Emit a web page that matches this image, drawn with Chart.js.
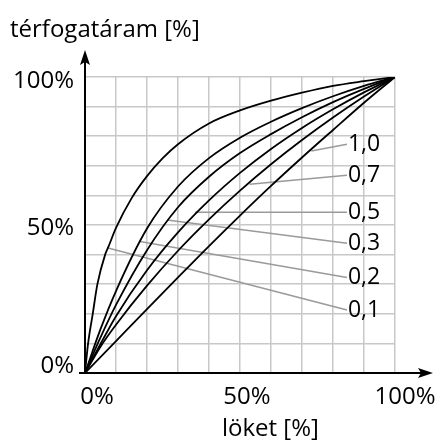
<!DOCTYPE html>
<html lang="hu">
<head>
    <meta charset="UTF-8">
    <title>térfogatáram - löket</title>
    <script src="https://cdn.jsdelivr.net/npm/chart.js"></script>
    <style>
        body {
            margin: 0;
            background: white;
        }
        canvas {
            display: block;
        }
    </style>
</head>
<body>
    <canvas id="chart" width="438" height="444"></canvas>
    <script>
        // Tick labels on both axes
        const tickValues = [0, 50, 100];
        const tickLabels = ['0%', '50%', '100%'];
        const xTitle = 'löket [%]';
        const yTitle = 'térfogatáram [%]';

        // Curves (x = löket %, y = térfogatáram %)
        const curveNames = ['0,1', '0,2', '0,3', '0,5', '0,7', '1,0'];
        const x01 = [0, 1, 2.5, 4, 6.5, 7.5, 10, 15, 20, 25, 30, 40, 50, 60, 70, 80, 90, 100];
        const y01 = [0, 10, 20, 30, 40, 42.5, 49, 59, 66.5, 72.5, 77.3, 84.3, 88.7, 92, 94.7, 97, 98.6, 100];
        const x02 = [0, 5, 10, 20, 30, 40, 50, 60, 70, 80, 90, 100];
        const y02 = [0, 14.8, 27.7, 48.8, 63, 72.6, 79.5, 84.9, 89.5, 93.5, 97, 100];
        const x03 = [0, 5, 10, 20, 30, 40, 50, 60, 70, 80, 90, 100];
        const y03 = [0, 12, 23, 41.5, 56, 66.3, 74.3, 80.7, 86.4, 91.5, 96, 100];
        const x05 = [0, 5, 10, 20, 30, 40, 50, 60, 70, 80, 90, 100];
        const y05 = [0, 9.8, 19.2, 34.7, 47.5, 58.3, 67.6, 75.7, 82.8, 89.1, 94.8, 100];
        const x07 = [0, 5, 10, 20, 30, 40, 50, 60, 70, 80, 90, 100];
        const y07 = [0, 8.9, 16.3, 29.5, 41.3, 51.9, 61.6, 70.5, 78.7, 86.3, 93.4, 100];
        const x10 = [0, 10, 20, 30, 40, 50, 60, 70, 80, 90, 100];
        const y10 = [0, 10.8, 21.6, 32.3, 42.9, 53.2, 63.2, 72.8, 82.1, 91.3, 100];
        const curvesX = [x01, x02, x03, x05, x07, x10];
        const curvesY = [y01, y02, y03, y05, y07, y10];

        // Leader lines from the labels to the curves
        const leaderStartX = 84.5;
        const leaderStartY = [21.3, 32.3, 43.8, 54.3, 66.8, 77.3];
        const leaderEndX = [7.4, 17.7, 26.5, 35.5, 53.1, 73];
        const leaderEndY = [42.2, 44.4, 51.7, 54.3, 63.75, 75];

        const FONT = '"Open Sans", "DejaVu Sans", sans-serif';

        const datasets = [];
        curveNames.forEach((name, i) => {
            datasets.push({
                label: 'leader ' + name,
                data: [
                    { x: leaderStartX, y: leaderStartY[i] },
                    { x: leaderEndX[i], y: leaderEndY[i] }
                ],
                showLine: true,
                borderColor: '#9a9a9a',
                borderWidth: 1.5,
                pointRadius: 0,
                order: 2
            });
        });
        curveNames.forEach((name, i) => {
            datasets.push({
                label: name,
                data: curvesX[i].map((x, j) => ({ x: x, y: curvesY[i][j] })),
                showLine: true,
                borderColor: '#000000',
                borderWidth: 1.8,
                pointRadius: 0,
                cubicInterpolationMode: 'monotone',
                order: 1
            });
        });

        // Axes with arrows, tick labels, titles and curve labels
        const decorations = {
            id: 'decorations',
            afterDraw(chart) {
                const ctx = chart.ctx;
                const xs = chart.scales.x;
                const ys = chart.scales.y;
                const x0 = xs.getPixelForValue(0);
                const y0 = ys.getPixelForValue(0);
                const yTop = ys.getPixelForValue(100);
                const xRight = xs.getPixelForValue(100);

                ctx.save();
                ctx.strokeStyle = '#000';
                ctx.fillStyle = '#000';
                ctx.lineWidth = 2;

                // y axis
                ctx.beginPath();
                ctx.moveTo(x0, y0 + 1);
                ctx.lineTo(x0, yTop - 20);
                ctx.stroke();
                ctx.beginPath();
                ctx.moveTo(x0, yTop - 27);
                ctx.lineTo(x0 - 5, yTop - 12);
                ctx.lineTo(x0, yTop - 15);
                ctx.lineTo(x0 + 5, yTop - 12);
                ctx.closePath();
                ctx.fill();

                // x axis
                ctx.beginPath();
                ctx.moveTo(x0 - 6, y0);
                ctx.lineTo(xRight + 30, y0);
                ctx.stroke();
                ctx.beginPath();
                ctx.moveTo(xRight + 38, y0);
                ctx.lineTo(xRight + 23, y0 - 5);
                ctx.lineTo(xRight + 26, y0);
                ctx.lineTo(xRight + 23, y0 + 5);
                ctx.closePath();
                ctx.fill();

                ctx.font = '24px ' + FONT;
                ctx.textBaseline = 'alphabetic';

                // y tick labels
                const yShift = [0, 10, 11];
                ctx.textAlign = 'right';
                tickValues.forEach((v, i) => {
                    ctx.fillText(tickLabels[i], x0 - 11, ys.getPixelForValue(v) + yShift[i]);
                });

                // x tick labels
                const xShift = [12, 7, 10];
                ctx.textAlign = 'center';
                tickValues.forEach((v, i) => {
                    ctx.fillText(tickLabels[i], xs.getPixelForValue(v) + xShift[i], y0 + 31);
                });

                // titles
                ctx.textAlign = 'left';
                ctx.fillText(yTitle, 10, 37);
                ctx.fillText(xTitle, 222, 436);

                // curve labels
                ctx.font = '23px ' + FONT;
                curveNames.forEach((name, i) => {
                    ctx.fillText(name, xs.getPixelForValue(leaderStartX) + 1,
                        ys.getPixelForValue(leaderStartY[i]) + 7);
                });
                ctx.restore();
            }
        };

        new Chart(document.getElementById('chart'), {
            type: 'scatter',
            data: { datasets: datasets },
            options: {
                responsive: false,
                animation: false,
                devicePixelRatio: 1,
                layout: {
                    padding: { left: 85, right: 43, top: 77, bottom: 71 }
                },
                plugins: {
                    legend: { display: false },
                    tooltip: { enabled: false }
                },
                scales: {
                    x: {
                        type: 'linear',
                        min: 0,
                        max: 100,
                        ticks: { display: false, stepSize: 10 },
                        grid: { color: '#c8c8c8', lineWidth: 1.5, drawTicks: false },
                        border: { display: false }
                    },
                    y: {
                        type: 'linear',
                        min: 0,
                        max: 100,
                        ticks: { display: false, stepSize: 10 },
                        grid: { color: '#c8c8c8', lineWidth: 1.5, drawTicks: false },
                        border: { display: false }
                    }
                }
            },
            plugins: [decorations]
        });
    </script>
</body>
</html>
